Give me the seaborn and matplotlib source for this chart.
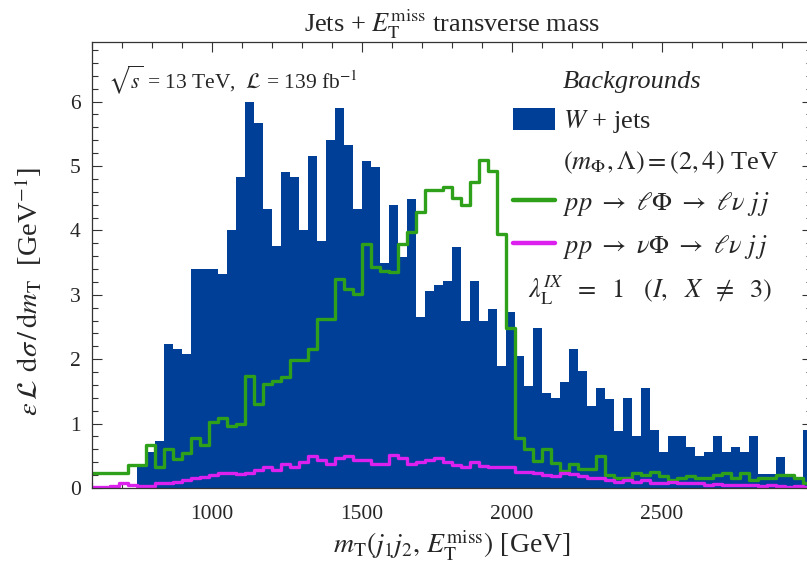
import numpy as np
import pandas as pd
import matplotlib.pyplot as plt
import seaborn as sns
from matplotlib.lines import Line2D
from matplotlib.patches import Patch
from matplotlib.ticker import MultipleLocator, FixedLocator

# --- Data (30 GeV bins from 600 to 3000 GeV) ---
bin_edges = np.arange(600, 3001, 30)
bin_centers = bin_edges[:-1] + 15

wjets = [0, 0, 0, 0, 0, 0.33, 0.56, 0.73, 2.23, 2.16,
         2.08, 3.40, 3.40, 3.40, 3.33, 4.00, 4.83, 5.99, 5.66, 4.33,
         3.75, 4.90, 4.83, 4.00, 5.15, 3.83, 5.41, 5.90, 5.33, 4.33,
         5.08, 4.99, 3.49, 4.40, 3.58, 4.49, 2.65, 3.06, 3.15, 3.22,
         3.74, 2.60, 3.22, 2.60, 2.78, 1.90, 2.73, 2.05, 1.59, 2.48,
         1.48, 1.40, 1.64, 2.16, 1.82, 1.28, 1.56, 1.38, 0.89, 1.39,
         0.81, 1.56, 0.90, 0.56, 0.81, 0.81, 0.64, 0.49, 0.56, 0.81,
         0.56, 0.64, 0.56, 0.81, 0.22, 0.22, 0.48, 0.22, 0.13, 0.90]

lphi = [0.24, 0.24, 0.24, 0.24, 0.35, 0.35, 0.66, 0.32, 0.60, 0.45,
        0.55, 0.78, 0.66, 1.02, 1.09, 0.96, 1.00, 1.74, 1.30, 1.61,
        1.66, 1.72, 1.99, 1.99, 2.16, 2.63, 2.63, 3.25, 3.09, 3.01,
        3.79, 3.43, 3.37, 3.35, 3.79, 3.97, 4.28, 4.62, 4.62, 4.67,
        4.51, 4.39, 4.75, 5.09, 4.93, 3.95, 2.49, 0.78, 0.60, 0.42,
        0.60, 0.39, 0.26, 0.38, 0.30, 0.30, 0.49, 0.20, 0.15, 0.15,
        0.23, 0.20, 0.25, 0.18, 0.12, 0.15, 0.18, 0.15, 0.15, 0.20,
        0.23, 0.15, 0.23, 0.12, 0.15, 0.15, 0.20, 0.20, 0.15, 0.08]

nuphi = [0.02, 0.02, 0.03, 0.07, 0.05, 0.03, 0.03, 0.07, 0.08, 0.10,
         0.12, 0.15, 0.17, 0.20, 0.23, 0.23, 0.22, 0.24, 0.28, 0.33,
         0.28, 0.38, 0.33, 0.41, 0.49, 0.43, 0.38, 0.46, 0.49, 0.44,
         0.44, 0.37, 0.37, 0.51, 0.46, 0.38, 0.41, 0.43, 0.46, 0.41,
         0.36, 0.33, 0.41, 0.34, 0.32, 0.32, 0.32, 0.25, 0.25, 0.23,
         0.20, 0.18, 0.23, 0.21, 0.18, 0.16, 0.16, 0.13, 0.10, 0.12,
         0.10, 0.12, 0.08, 0.08, 0.10, 0.08, 0.07, 0.07, 0.05, 0.06,
         0.05, 0.05, 0.04, 0.05, 0.03, 0.04, 0.03, 0.02, 0.03, 0.02]

xticks = [1000, 1500, 2000, 2500]

df = pd.DataFrame({'mT': bin_centers, 'wjets': wjets, 'lphi': lphi, 'nuphi': nuphi})

blue = '#003f98'
green = '#2ea01a'
magenta = '#dc20ee'

# --- Style ---
sns.set_style("ticks")
plt.rcParams['font.family'] = ['Liberation Serif', 'DejaVu Serif']
plt.rcParams['mathtext.fontset'] = 'stix'

fig = plt.figure(figsize=(8.07, 5.76), dpi=100)
ax = fig.add_axes([0.1136, 0.1528, 0.892, 0.7748])

# --- Histograms ---
hist_kw = dict(data=df, x='mT', binwidth=30, binrange=(600, 3000), ax=ax)
sns.histplot(weights='wjets', element='bars', color=blue, alpha=1, linewidth=0, **hist_kw)
sns.histplot(weights='lphi', element='step', fill=False, color=green, linewidth=2.4, **hist_kw)
sns.histplot(weights='nuphi', element='step', fill=False, color=magenta, linewidth=2.4, **hist_kw)

ax.set_xlim(600, 3000)
ax.set_ylim(0, 6.93)
ax.xaxis.set_major_locator(FixedLocator(xticks))
ax.xaxis.set_minor_locator(MultipleLocator(100))
ax.yaxis.set_major_locator(MultipleLocator(1))
ax.yaxis.set_minor_locator(MultipleLocator(0.2))
ax.tick_params(which='both', direction='in', top=True, right=True,
               labelsize=15.5, color='#333333', width=0.8)
ax.tick_params(which='major', length=7)
ax.tick_params(which='minor', length=4)
ax.tick_params(axis='x', which='major', pad=12)
ax.tick_params(axis='y', which='major', pad=8)
for s in ax.spines.values():
    s.set_linewidth(0.9)
    s.set_color('#333333')

# --- Labels ---
ax.set_title(r'Jets + $E_{\mathrm{T}}^{\mathrm{miss}}$ transverse mass', fontsize=19, pad=7)
ax.set_xlabel(r'$m_{\mathrm{T}}(j_1 j_2,\, E_{\mathrm{T}}^{\mathrm{miss}})$ [GeV]', fontsize=20, labelpad=4)
ax.set_ylabel(r'$\varepsilon\,\mathcal{L}\;\,\mathrm{d}\sigma\,/\,\mathrm{d}m_{\mathrm{T}}$  [GeV$^{-1}$]',
              fontsize=20.5)
ax.yaxis.set_label_coords(-0.066, 0.44)

ax.text(0.023, 0.914, r'$\sqrt{s}$ = 13 TeV,  $\mathcal{L}$ = 139 fb$^{-1}$',
        transform=ax.transAxes, fontsize=15.5, va='center', ha='left')

handles = [Line2D([], [], color='none'),
           Patch(facecolor=blue, edgecolor='none'),
           Line2D([], [], color='none'),
           Line2D([], [], color=green, linewidth=3.2),
           Line2D([], [], color=magenta, linewidth=3.2)]
labels = ['Backgrounds', r'$W$ + jets', r'$(m_{\Phi}, \Lambda) = (2, 4)$ TeV',
          r'$pp\ \rightarrow\ \ell\Phi\ \rightarrow\ \ell\nu\ j\,j$',
          r'$pp\ \rightarrow\ \nu\Phi\ \rightarrow\ \ell\nu\ j\,j$']
leg = ax.legend(handles, labels, loc='upper left', bbox_to_anchor=(0.585, 0.941),
                frameon=False, fontsize=19, handlelength=1.6, handleheight=0.9,
                handletextpad=0.3, labelspacing=0.55, borderpad=0, borderaxespad=0)
leg.get_texts()[0].set_style('italic')

ax.text(0.606, 0.444, r'$\lambda_{\mathrm{L}}^{IX}\;\ =\;\ 1\ \ \ (I,\ \ X\;\ \neq\;\ 3)$',
        transform=ax.transAxes, fontsize=19, va='center', ha='left')

fig.savefig('out.png', dpi=100)
